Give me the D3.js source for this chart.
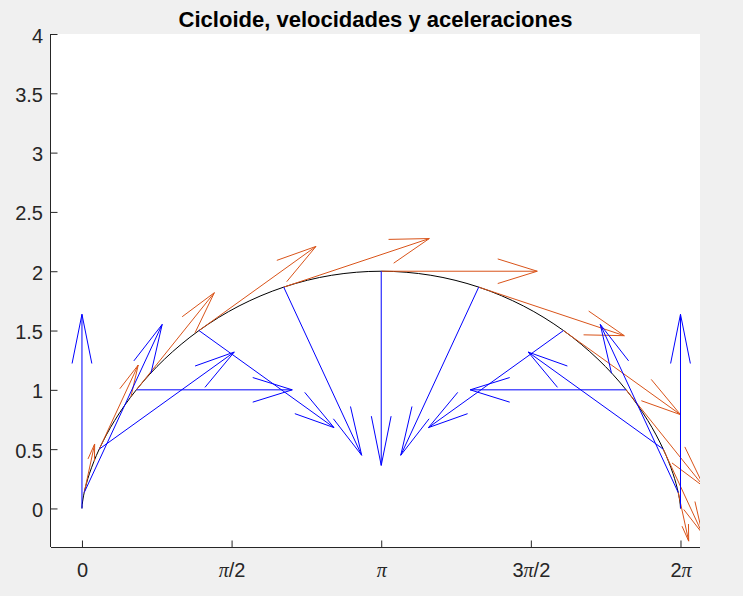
<!DOCTYPE html>
<html>
<head>
<meta charset="utf-8">
<script src="https://cdn.jsdelivr.net/npm/d3@7"></script>
<style>
  body { margin: 0; background: #f0f0f0; }
  svg { display: block; }
</style>
</head>
<body>
<div class="diagram"></div>
<script>
var width = 743, height = 596;

// cycloid curve, t = 0 .. 2pi in steps of pi/12
var curveX = [0, 0.0030, 0.0236, 0.0783, 0.1812, 0.3431, 0.5708, 0.8667, 1.2284, 1.6491, 2.1180, 2.6210,
  3.1416, 3.6622, 4.1652, 4.6341, 5.0548, 5.4165, 5.7124, 5.9401, 6.1020, 6.2049, 6.2596, 6.2802, 6.2832];
var curveY = [0, 0.0341, 0.1340, 0.2929, 0.5, 0.7412, 1, 1.2588, 1.5, 1.7071, 1.8660, 1.9659,
  2, 1.9659, 1.8660, 1.7071, 1.5, 1.2588, 1, 0.7412, 0.5, 0.2929, 0.1340, 0.0341, 0];

// arrow positions (t = 0 .. 2pi, step pi/6)
var posX = [0, 0.0236, 0.1812, 0.5708, 1.2284, 2.1180, 3.1416, 4.1652, 5.0548, 5.7124, 6.1020, 6.2596, 6.2832];
var posY = [0, 0.1340, 0.5, 1, 1.5, 1.8660, 2, 1.8660, 1.5, 1, 0.5, 0.1340, 0];

// velocity
var velX = [0, 0.1340, 0.5, 1, 1.5, 1.8660, 2, 1.8660, 1.5, 1, 0.5, 0.1340, 0];
var velY = [0, 0.5, 0.8660, 1, 0.8660, 0.5, 0, -0.5, -0.8660, -1, -0.8660, -0.5, 0];

// acceleration
var accX = [0, 0.5, 0.8660, 1, 0.8660, 0.5, 0, -0.5, -0.8660, -1, -0.8660, -0.5, 0];
var accY = [1, 0.8660, 0.5, 0, -0.5, -0.8660, -1, -0.8660, -0.5, 0, 0.5, 0.8660, 1];

var velScale = 0.819, accScale = 1.637;

var xTicks = [0, Math.PI / 2, Math.PI, 3 * Math.PI / 2, 2 * Math.PI];
var xTickLabels = ['0', 'π/2', 'π', '3π/2', '2π'];
var yTicks = [0, 0.5, 1, 1.5, 2, 2.5, 3, 3.5, 4];
var yTickLabels = ['0', '0.5', '1', '1.5', '2', '2.5', '3', '3.5', '4'];

var axL = 51, axR = 700, axT = 34, axB = 547;

var x = d3.scaleLinear().domain([-0.325, 6.488]).range([axL, axR]);
var y = d3.scaleLinear().domain([-0.325, 4]).range([axB, axT]);

var svg = d3.select('.diagram')
	.append('svg')
	.attr('width', width)
	.attr('height', height);

svg.append('rect')
	.attr('x', axL).attr('y', axT)
	.attr('width', axR - axL).attr('height', axB - axT)
	.attr('fill', 'white');

svg.append('clipPath').attr('id', 'clip')
	.append('rect')
	.attr('x', axL).attr('y', axT)
	.attr('width', axR - axL).attr('height', axB - axT);

var plot = svg.append('g').attr('clip-path', 'url(#clip)');

// curve
var line = d3.line()
	.x(function(d) { return x(d[0]); })
	.y(function(d) { return y(d[1]); })
	.curve(d3.curveCatmullRom.alpha(0.5));

plot.append('path')
	.datum(curveX.map(function(v, i) { return [v, curveY[i]]; }))
	.attr('d', line)
	.attr('fill', 'none')
	.attr('stroke', 'black')
	.attr('stroke-width', 1);

// quiver style arrows, head computed in data units
function arrowPath(px, py, u, v) {
	var L = Math.sqrt(u * u + v * v);
	if (L === 0) return null;
	var a = Math.min(0.33, 0.415 / L), b = 0.25;
	var tx = px + u, ty = py + v;
	var h1x = tx - a * (u + b * v), h1y = ty - a * (v - b * u);
	var h2x = tx - a * (u - b * v), h2y = ty - a * (v + b * u);
	return 'M' + x(px) + ',' + y(py) + 'L' + x(tx) + ',' + y(ty) +
		'M' + x(h1x) + ',' + y(h1y) + 'L' + x(tx) + ',' + y(ty) + 'L' + x(h2x) + ',' + y(h2y);
}

function quiver(us, vs, s, color) {
	var d = posX.map(function(p, i) { return arrowPath(p, posY[i], us[i] * s, vs[i] * s); })
		.filter(function(p) { return p; });
	plot.append('g')
		.selectAll('path')
		.data(d)
		.enter().append('path')
		.attr('d', function(p) { return p; })
		.attr('fill', 'none')
		.attr('stroke', color)
		.attr('stroke-width', 1);
}

quiver(velX, velY, velScale, '#d95319');
quiver(accX, accY, accScale, '#0000ff');

// axes
var xAxis = svg.append('g')
	.attr('transform', 'translate(0,' + axB + ')')
	.call(d3.axisBottom(x).tickValues(xTicks)
		.tickFormat(function(d, i) { return xTickLabels[i]; })
		.tickSizeInner(-6.5).tickSizeOuter(0).tickPadding(16));

var yAxis = svg.append('g')
	.attr('transform', 'translate(' + axL + ',0)')
	.call(d3.axisLeft(y).tickValues(yTicks)
		.tickFormat(function(d, i) { return yTickLabels[i]; })
		.tickSizeInner(-6.5).tickSizeOuter(0).tickPadding(8));

[xAxis, yAxis].forEach(function(ax) {
	ax.attr('font-family', '"Liberation Sans", Arial, Helvetica, sans-serif')
		.attr('font-size', 20);
	ax.selectAll('path, line').attr('stroke', '#262626');
	ax.selectAll('text').attr('fill', '#262626');
});
yAxis.selectAll('text').attr('dy', '0.4em');
xAxis.select('.domain').attr('d', 'M' + axL + ',0.5H' + axR);
yAxis.select('.domain').attr('d', 'M-0.5,' + axT + 'V' + axB);

// pi glyphs in serif
xAxis.selectAll('text').each(function(d, i) {
	var t = d3.select(this), s = xTickLabels[i];
	if (s.indexOf('π') < 0) return;
	t.text(null);
	s.split(/(π)/).forEach(function(part) {
		if (!part) return;
		var sp = t.append('tspan').text(part);
		if (part === 'π') sp.attr('font-family', '"Liberation Serif", "Times New Roman", serif').attr('font-style', 'italic');
	});
});

// title
svg.append('text')
	.attr('x', (axL + axR) / 2)
	.attr('y', 27)
	.attr('text-anchor', 'middle')
	.attr('font-family', '"Liberation Sans", Arial, Helvetica, sans-serif')
	.attr('font-weight', 'bold')
	.attr('font-size', 22)
	.attr('fill', 'black')
	.text('Cicloide, velocidades y aceleraciones');
</script>
</body>
</html>
